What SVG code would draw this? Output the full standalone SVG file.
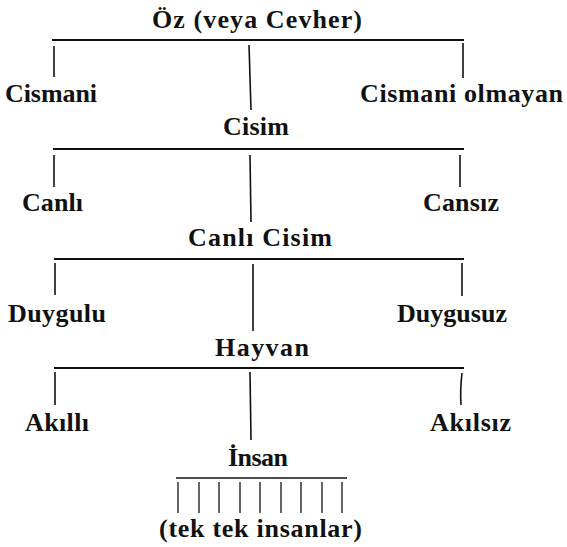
<svg xmlns="http://www.w3.org/2000/svg" width="567" height="547" viewBox="0 0 567 547">
<style>
text{font-family:"Liberation Serif","Times New Roman",serif;font-size:26px;font-weight:bold;fill:#111}
.bar{stroke:#111;stroke-width:2;fill:none}
.v{stroke:#111;stroke-width:1.6;fill:none}
.t{stroke:#111;stroke-width:1.3;fill:none}
</style>
<rect width="567" height="547" fill="#fff"/>
<g id="connectors">
<line class="bar" x1="52" y1="40" x2="464" y2="40"/>
<line class="v" x1="54" y1="46" x2="54" y2="77"/>
<line class="v" x1="249" y1="45" x2="251" y2="110"/>
<line class="v" x1="463" y1="43" x2="463" y2="78"/>
<line class="bar" x1="53" y1="149" x2="464" y2="149"/>
<line class="v" x1="54" y1="155" x2="54" y2="187"/>
<line class="v" x1="250" y1="155" x2="251" y2="222"/>
<line class="v" x1="460" y1="155" x2="460" y2="187"/>
<line class="bar" x1="54" y1="259" x2="464" y2="259"/>
<line class="v" x1="55" y1="263" x2="55" y2="295"/>
<line class="v" x1="253" y1="264" x2="253" y2="331"/>
<line class="v" x1="462" y1="263" x2="462" y2="296"/>
<line class="bar" x1="54" y1="368" x2="464" y2="368"/>
<line class="v" x1="55" y1="372" x2="55" y2="405"/>
<line class="v" x1="250" y1="372" x2="251" y2="440"/>
<path class="v" d="M462 373 Q460 390 461 405"/>
<line class="t" x1="176" y1="478" x2="347" y2="478"/>
<g class="t">
<line x1="178" y1="482" x2="178" y2="513"/>
<line x1="199" y1="482" x2="199" y2="513"/>
<line x1="219" y1="482" x2="219" y2="513"/>
<line x1="240" y1="482" x2="240" y2="513"/>
<line x1="260" y1="482" x2="260" y2="513"/>
<line x1="281" y1="482" x2="281" y2="513"/>
<line x1="301" y1="482" x2="301" y2="513"/>
<line x1="322" y1="482" x2="322" y2="513"/>
<line x1="342" y1="482" x2="342" y2="513"/>
</g>
</g>
<g id="oz"><text x="152" y="28" textLength="210" lengthAdjust="spacing">Öz (veya Cevher)</text></g>
<g id="cismani"><text x="5" y="102" textLength="92" lengthAdjust="spacing">Cismani</text></g>
<g id="cismani-olmayan"><text x="360" y="102" textLength="203" lengthAdjust="spacing">Cismani olmayan</text></g>
<g id="cisim"><text x="223" y="135" textLength="66" lengthAdjust="spacing">Cisim</text></g>
<g id="canli"><text x="22" y="211" textLength="61" lengthAdjust="spacing">Canlı</text></g>
<g id="cansiz"><text x="423" y="211" textLength="76" lengthAdjust="spacing">Cansız</text></g>
<g id="canli-cisim"><text x="188" y="246" textLength="144" lengthAdjust="spacing">Canlı  Cisim</text></g>
<g id="duygulu"><text x="8" y="322" textLength="98" lengthAdjust="spacing">Duygulu</text></g>
<g id="duygusuz"><text x="397" y="322" textLength="110" lengthAdjust="spacing">Duygusuz</text></g>
<g id="hayvan"><text x="215" y="356" textLength="94" lengthAdjust="spacing">Hayvan</text></g>
<g id="akilli"><text x="25" y="431" textLength="64" lengthAdjust="spacing">Akıllı</text></g>
<g id="akilsiz"><text x="430" y="431" textLength="81" lengthAdjust="spacing">Akılsız</text></g>
<g id="insan"><text x="228" y="466" textLength="60" lengthAdjust="spacing">İnsan</text></g>
<g id="tek-tek"><text x="159" y="537" textLength="203" lengthAdjust="spacing">(tek tek insanlar)</text></g>
</svg>
